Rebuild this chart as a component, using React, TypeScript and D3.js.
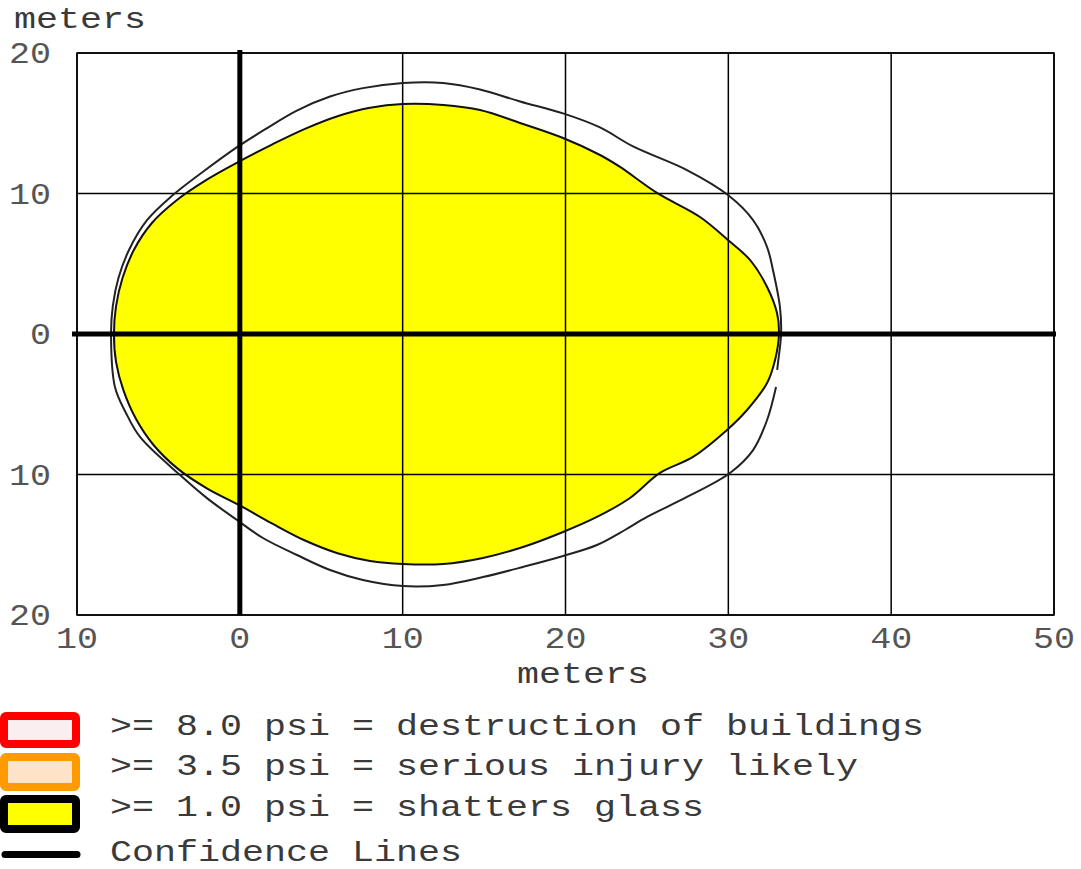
import React from "react";
import * as d3 from "d3";

const W = 1081;
const H = 869;

// axis ticks (values) and their printed labels
const xTickValues = [-10, 0, 10, 20, 30, 40, 50];
const xTickLabels = ["10", "0", "10", "20", "30", "40", "50"];
const yTickValues = [20, 10, 0, -10, -20];
const yTickLabels = ["20", "10", "0", "10", "20"];

// 1.0 psi contour (yellow region), meters
const glassX = [-7.73, -7.6, -7.2, -6.5, -5.4, -3.9, -2.0, 0.0, 2.0, 4.0, 6.0, 8.0, 10.0, 12.5, 14.75, 17.21, 19.85, 22.12, 23.35, 25.62, 28.26, 29.98, 31.33, 32.38, 32.99, 33.11, 32.87, 32.38, 31.15, 29.92, 27.83, 25.8, 23.96, 21.93, 19.85, 17.39, 14.93, 12.48, 10.02, 8.0, 6.0, 4.0, 2.0, 0.0, -2.0, -3.8, -5.3, -6.4, -7.15, -7.6];
const glassY = [0, 2.0, 4.0, 6.0, 7.9, 9.5, 11.0, 12.3, 13.5, 14.6, 15.5, 16.1, 16.37, 16.3, 15.94, 15.02, 13.95, 12.74, 11.89, 10.04, 8.33, 6.69, 5.27, 3.35, 1.49, 0, -1.85, -3.49, -5.41, -6.83, -8.75, -9.89, -11.67, -13.02, -14.09, -15.16, -15.94, -16.37, -16.37, -16.15, -15.6, -14.7, -13.5, -12.2, -11.0, -9.6, -7.9, -6.0, -4.0, -2.0];

// outer confidence line, meters (open, small gap on the right)
const confX = [32.93, 32.38, 31.52, 30.1, 27.46, 25.01, 23.65, 21.93, 19.85, 17.39, 14.93, 12.48, 10.02, 7.56, 5.54, 3.51, 1.42, -0.17, -2.0, -3.67, -6.13, -7.0, -7.67, -7.91, -7.8, -7.45, -6.8, -5.7, -4.2, -2.2, -0.17, 1.6, 3.5, 5.54, 7.56, 10.02, 12.48, 14.75, 17.21, 19.85, 22.12, 24.15, 27.46, 29.98, 31.52, 32.38, 32.74, 33.17, 33.24, 33.05, 33.0];
const confY = [-3.77, -6.12, -8.26, -9.89, -11.6, -13.02, -13.95, -15.02, -15.8, -16.58, -17.3, -17.86, -17.94, -17.51, -16.8, -15.73, -14.52, -13.24, -11.7, -10.04, -7.33, -5.6, -3.77, 0, 2.0, 4.0, 6.0, 8.1, 9.8, 11.6, 13.3, 14.6, 15.9, 16.9, 17.5, 17.86, 17.86, 17.4, 16.55, 15.7, 14.7, 13.35, 11.67, 9.89, 8.11, 6.19, 4.56, 1.92, 0, -2.06, -2.56];

// legend
const legendLabels = [
  ">= 8.0 psi = destruction of buildings",
  ">= 3.5 psi = serious injury likely",
  ">= 1.0 psi = shatters glass",
  "Confidence Lines",
];
const legendStroke = ["#ff0000", "#ff9a00", "#000000"];
const legendFill = ["#fbeef0", "#fde3c8", "#ffff00"];

const FONT = "'Liberation Mono', 'Courier New', monospace";
const ADV = 22; // horizontal advance per character (stretched mono text)

function MonoText(props: { x: number; y: number; text: string; anchor?: string; fill?: string; adv?: number }) {
  const adv = props.adv ?? ADV;
  const len = props.text.length * adv;
  let x = props.x;
  if (props.anchor === "end") x = props.x - len;
  else if (props.anchor === "middle") x = props.x - len / 2;
  return (
    <text
      x={x}
      y={props.y}
      fontFamily={FONT}
      fontSize={30}
      fill={props.fill ?? "#3a3a3a"}
      textLength={len}
      lengthAdjust="spacingAndGlyphs"
    >
      {props.text}
    </text>
  );
}

export default function App() {
  const x = d3.scaleLinear().domain([-10, 50]).range([77, 1054]);
  const y = d3.scaleLinear().domain([-20, 20]).range([615, 53]);

  const glassPts: [number, number][] = glassX.map((v, i) => [x(v), y(glassY[i])]);
  const confPts: [number, number][] = confX.map((v, i) => [x(v), y(confY[i])]);

  const closed = d3.line().curve(d3.curveCatmullRomClosed.alpha(0.5));
  const open = d3.line().curve(d3.curveCatmullRom.alpha(0.5));

  return (
    <svg
      width={W}
      height={H}
      style={{ position: "absolute", left: 0, top: 0, background: "#fff" }}
    >
      <rect x={0} y={0} width={W} height={H} fill="#fff" />
      {/* yellow region */}
      <path d={closed(glassPts) || ""} fill="#ffff00" stroke="none" />
      {/* grid */}
      {xTickValues.map((v) => (
        <line key={"gx" + v} x1={x(v)} x2={x(v)} y1={y(20)} y2={y(-20)} stroke="#000" strokeWidth={1.5} />
      ))}
      {yTickValues.map((v) => (
        <line key={"gy" + v} x1={x(-10)} x2={x(50)} y1={y(v)} y2={y(v)} stroke="#000" strokeWidth={1.5} />
      ))}
      <rect x={x(-10)} y={y(20)} width={x(50) - x(-10)} height={y(-20) - y(20)} fill="none" stroke="#000" strokeWidth={1.5} />
      {/* contour outlines */}
      <path d={closed(glassPts) || ""} fill="none" stroke="#111" strokeWidth={2} />
      <path d={open(confPts) || ""} fill="none" stroke="#222" strokeWidth={2} />
      {/* thick axes */}
      <line x1={x(0)} x2={x(0)} y1={y(20) - 3} y2={y(-20)} stroke="#000" strokeWidth={5} />
      <line x1={x(-10) - 5} x2={x(50) + 2} y1={y(0)} y2={y(0)} stroke="#000" strokeWidth={5} />

      {/* tick labels */}
      {yTickValues.map((v, i) => (
        <MonoText key={"yl" + v} x={51} y={y(v) + 10} text={yTickLabels[i]} anchor="end" fill="#555" adv={21} />
      ))}
      {xTickValues.map((v, i) => (
        <MonoText key={"xl" + v} x={x(v)} y={648} text={xTickLabels[i]} anchor="middle" fill="#555" adv={21} />
      ))}
      <MonoText x={14} y={28} text="meters" />
      <MonoText x={583} y={683} text="meters" anchor="middle" />

      {/* legend */}
      {legendStroke.map((c, i) => (
        <rect
          key={"sw" + i}
          x={4}
          y={[716, 757, 799][i]}
          width={72}
          height={[28, 30, 30][i]}
          rx={2}
          fill={legendFill[i]}
          stroke={c}
          strokeWidth={8}
        />
      ))}
      <line x1={5} x2={77} y1={854.5} y2={854.5} stroke="#000" strokeWidth={7} strokeLinecap="round" />
      {legendLabels.map((t, i) => (
        <MonoText key={"lg" + i} x={110} y={[735, 775, 816, 861][i]} text={t} />
      ))}
    </svg>
  );
}
